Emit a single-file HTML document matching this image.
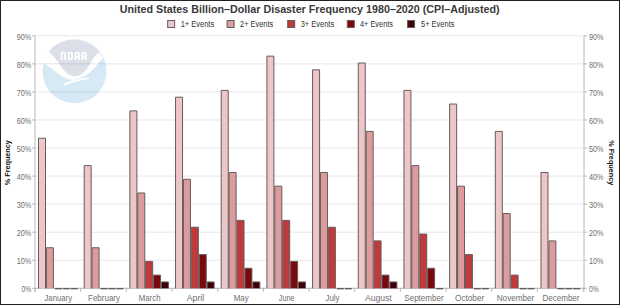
<!DOCTYPE html>
<html><head><meta charset="utf-8"><style>
html,body{margin:0;padding:0;background:#fff;}
body{width:620px;height:305px;overflow:hidden;position:relative;}
svg{position:absolute;left:0;top:0;display:block;font-family:"Liberation Sans",sans-serif;}
</style></head><body>
<svg width="620" height="305" viewBox="0 0 620 305">
<rect x="0" y="0" width="620" height="305" fill="#fff"/>

<g>
  <circle cx="74.5" cy="71.3" r="32" fill="#d6e9f5"/>
  <path d="M42.6,62.2 L48.7,51.6 L99.2,52.5 L102.8,57.8 C102.08,58.67 100.05,61.17 98.50,63.00 C96.95,64.83 95.33,66.93 93.50,68.80 C91.67,70.67 89.37,72.87 87.50,74.20 C85.63,75.53 83.93,76.10 82.30,76.80 C80.67,77.50 79.08,77.90 77.70,78.40 C76.32,78.90 75.20,79.60 74.00,79.80 C72.80,80.00 72.07,79.93 70.50,79.60 C68.93,79.27 66.52,78.65 64.60,77.80 C62.68,76.95 60.77,75.77 59.00,74.50 C57.23,73.23 55.83,71.62 54.00,70.20 C52.17,68.78 49.90,67.33 48.00,66.00 C46.10,64.67 43.50,62.83 42.60,62.20 Z" fill="#ffffff"/>
  <path d="M48.7,51.6 A32,32 0 0 1 99.2,52.5 C98.40,53.22 95.80,55.12 94.40,56.80 C93.00,58.48 92.10,60.58 90.80,62.60 C89.50,64.62 88.10,67.02 86.60,68.90 C85.10,70.78 83.73,72.65 81.80,73.90 C79.87,75.15 77.23,76.33 75.00,76.40 C72.77,76.47 70.27,75.37 68.40,74.30 C66.53,73.23 65.27,71.62 63.80,70.00 C62.33,68.38 61.07,66.60 59.60,64.60 C58.13,62.60 56.82,60.17 55.00,58.00 C53.18,55.83 49.75,52.67 48.70,51.60 Z" fill="#dddfe8"/>
  <path d="M64.2,83.2 C70,80.8 79,78.5 88.4,77.5 Q89.3,78.2 88.4,78.9 C79,80.5 71,82.6 64.8,85.4 Q63.3,84.6 64.2,83.2 Z" fill="#ffffff"/>
  <g fill="#ffffff">
    <path d="M60.6,60 V54 Q60.6,51.8 62.8,51.8 H63.8 Q66,51.8 66,54 V60 H64.2 V53.6 H62.4 V60 Z"/>
    <path d="M69.9,51.8 H70.7 Q72.9,51.8 72.9,54 V57.8 Q72.9,60 70.7,60 H69.9 Q67.7,60 67.7,57.8 V54 Q67.7,51.8 69.9,51.8 Z M69.5,53.6 V58.2 H71.1 V53.6 Z"/>
    <path d="M74.5,60 V54 Q74.5,51.8 76.7,51.8 H77.6 Q79.8,51.8 79.8,54 V60 H78 V57.6 H76.3 V60 Z M76.3,53.6 V55.8 H78 V53.6 Z"/>
    <path d="M81.4,60 V54 Q81.4,51.8 83.6,51.8 H84.5 Q86.7,51.8 86.7,54 V60 H84.9 V57.6 H83.2 V60 Z M83.2,53.6 V55.8 H84.9 V53.6 Z"/>
  </g>
</g>

<g stroke="#000" stroke-opacity="0.1" stroke-width="1"><line x1="35.0" y1="288.30" x2="584.0" y2="288.30"/><line x1="35.0" y1="260.24" x2="584.0" y2="260.24"/><line x1="35.0" y1="232.19" x2="584.0" y2="232.19"/><line x1="35.0" y1="204.13" x2="584.0" y2="204.13"/><line x1="35.0" y1="176.08" x2="584.0" y2="176.08"/><line x1="35.0" y1="148.02" x2="584.0" y2="148.02"/><line x1="35.0" y1="119.97" x2="584.0" y2="119.97"/><line x1="35.0" y1="91.91" x2="584.0" y2="91.91"/><line x1="35.0" y1="63.86" x2="584.0" y2="63.86"/><line x1="35.0" y1="35.80" x2="584.0" y2="35.80"/></g>
<g stroke="#b8b8b8" stroke-width="1">
<line x1="35.0" y1="35.8" x2="35.0" y2="291.8"/>
<line x1="584.0" y1="35.8" x2="584.0" y2="291.8"/>
<line x1="35.0" y1="288.3" x2="584.0" y2="288.3"/>
<line x1="32.0" y1="288.30" x2="35.0" y2="288.30"/><line x1="584.0" y1="288.30" x2="587.0" y2="288.30"/><line x1="32.0" y1="260.24" x2="35.0" y2="260.24"/><line x1="584.0" y1="260.24" x2="587.0" y2="260.24"/><line x1="32.0" y1="232.19" x2="35.0" y2="232.19"/><line x1="584.0" y1="232.19" x2="587.0" y2="232.19"/><line x1="32.0" y1="204.13" x2="35.0" y2="204.13"/><line x1="584.0" y1="204.13" x2="587.0" y2="204.13"/><line x1="32.0" y1="176.08" x2="35.0" y2="176.08"/><line x1="584.0" y1="176.08" x2="587.0" y2="176.08"/><line x1="32.0" y1="148.02" x2="35.0" y2="148.02"/><line x1="584.0" y1="148.02" x2="587.0" y2="148.02"/><line x1="32.0" y1="119.97" x2="35.0" y2="119.97"/><line x1="584.0" y1="119.97" x2="587.0" y2="119.97"/><line x1="32.0" y1="91.91" x2="35.0" y2="91.91"/><line x1="584.0" y1="91.91" x2="587.0" y2="91.91"/><line x1="32.0" y1="63.86" x2="35.0" y2="63.86"/><line x1="584.0" y1="63.86" x2="587.0" y2="63.86"/><line x1="32.0" y1="35.80" x2="35.0" y2="35.80"/><line x1="584.0" y1="35.80" x2="587.0" y2="35.80"/>
<line x1="35.00" y1="288.3" x2="35.00" y2="291.8"/><line x1="80.68" y1="288.3" x2="80.68" y2="291.8"/><line x1="126.36" y1="288.3" x2="126.36" y2="291.8"/><line x1="172.04" y1="288.3" x2="172.04" y2="291.8"/><line x1="217.72" y1="288.3" x2="217.72" y2="291.8"/><line x1="263.40" y1="288.3" x2="263.40" y2="291.8"/><line x1="309.08" y1="288.3" x2="309.08" y2="291.8"/><line x1="354.76" y1="288.3" x2="354.76" y2="291.8"/><line x1="400.44" y1="288.3" x2="400.44" y2="291.8"/><line x1="446.12" y1="288.3" x2="446.12" y2="291.8"/><line x1="491.80" y1="288.3" x2="491.80" y2="291.8"/><line x1="537.48" y1="288.3" x2="537.48" y2="291.8"/><line x1="583.16" y1="288.3" x2="583.16" y2="291.8"/>
</g>
<g><rect x="38.50" y="138.26" width="7.00" height="150.04" fill="#edc6c8"/><rect x="46.40" y="247.74" width="7.00" height="40.56" fill="#dc9c9e"/><rect x="84.18" y="165.63" width="7.00" height="122.67" fill="#edc6c8"/><rect x="92.08" y="247.74" width="7.00" height="40.56" fill="#dc9c9e"/><rect x="129.86" y="110.89" width="7.00" height="177.41" fill="#edc6c8"/><rect x="137.76" y="193.00" width="7.00" height="95.30" fill="#dc9c9e"/><rect x="145.66" y="261.43" width="7.00" height="26.87" fill="#c0393b"/><rect x="153.56" y="275.11" width="7.00" height="13.19" fill="#7a080c"/><rect x="161.46" y="281.96" width="7.00" height="6.34" fill="#3c0005"/><rect x="175.54" y="97.20" width="7.00" height="191.10" fill="#edc6c8"/><rect x="183.44" y="179.31" width="7.00" height="108.99" fill="#dc9c9e"/><rect x="191.34" y="227.21" width="7.00" height="61.09" fill="#c0393b"/><rect x="199.24" y="254.59" width="7.00" height="33.71" fill="#7a080c"/><rect x="207.14" y="281.96" width="7.00" height="6.34" fill="#3c0005"/><rect x="221.22" y="90.36" width="7.00" height="197.94" fill="#edc6c8"/><rect x="229.12" y="172.47" width="7.00" height="115.83" fill="#dc9c9e"/><rect x="237.02" y="220.37" width="7.00" height="67.93" fill="#c0393b"/><rect x="244.92" y="268.27" width="7.00" height="20.03" fill="#7a080c"/><rect x="252.82" y="281.96" width="7.00" height="6.34" fill="#3c0005"/><rect x="266.90" y="56.14" width="7.00" height="232.16" fill="#edc6c8"/><rect x="274.80" y="186.16" width="7.00" height="102.14" fill="#dc9c9e"/><rect x="282.70" y="220.37" width="7.00" height="67.93" fill="#c0393b"/><rect x="290.60" y="261.43" width="7.00" height="26.87" fill="#7a080c"/><rect x="298.50" y="281.96" width="7.00" height="6.34" fill="#3c0005"/><rect x="312.58" y="69.83" width="7.00" height="218.47" fill="#edc6c8"/><rect x="320.48" y="172.47" width="7.00" height="115.83" fill="#dc9c9e"/><rect x="328.38" y="227.21" width="7.00" height="61.09" fill="#c0393b"/><rect x="358.26" y="62.99" width="7.00" height="225.31" fill="#edc6c8"/><rect x="366.16" y="131.42" width="7.00" height="156.88" fill="#dc9c9e"/><rect x="374.06" y="240.90" width="7.00" height="47.40" fill="#c0393b"/><rect x="381.96" y="275.11" width="7.00" height="13.19" fill="#7a080c"/><rect x="389.86" y="281.96" width="7.00" height="6.34" fill="#3c0005"/><rect x="403.94" y="90.36" width="7.00" height="197.94" fill="#edc6c8"/><rect x="411.84" y="165.63" width="7.00" height="122.67" fill="#dc9c9e"/><rect x="419.74" y="234.06" width="7.00" height="54.24" fill="#c0393b"/><rect x="427.64" y="268.27" width="7.00" height="20.03" fill="#7a080c"/><rect x="449.62" y="104.04" width="7.00" height="184.26" fill="#edc6c8"/><rect x="457.52" y="186.16" width="7.00" height="102.14" fill="#dc9c9e"/><rect x="465.42" y="254.59" width="7.00" height="33.71" fill="#c0393b"/><rect x="495.30" y="131.42" width="7.00" height="156.88" fill="#edc6c8"/><rect x="503.20" y="213.53" width="7.00" height="74.77" fill="#dc9c9e"/><rect x="511.10" y="275.11" width="7.00" height="13.19" fill="#c0393b"/><rect x="540.98" y="172.47" width="7.00" height="115.83" fill="#edc6c8"/><rect x="548.88" y="240.90" width="7.00" height="47.40" fill="#dc9c9e"/></g>
<g fill="none" stroke="#665c5d" stroke-width="1"><path d="M38.50,288.3 V138.26 H45.50 V288.3"/><path d="M46.40,288.3 V247.74 H53.40 V288.3"/><path d="M84.18,288.3 V165.63 H91.18 V288.3"/><path d="M92.08,288.3 V247.74 H99.08 V288.3"/><path d="M129.86,288.3 V110.89 H136.86 V288.3"/><path d="M137.76,288.3 V193.00 H144.76 V288.3"/><path d="M145.66,288.3 V261.43 H152.66 V288.3"/><path d="M153.56,288.3 V275.11 H160.56 V288.3"/><path d="M161.46,288.3 V281.96 H168.46 V288.3"/><path d="M175.54,288.3 V97.20 H182.54 V288.3"/><path d="M183.44,288.3 V179.31 H190.44 V288.3"/><path d="M191.34,288.3 V227.21 H198.34 V288.3"/><path d="M199.24,288.3 V254.59 H206.24 V288.3"/><path d="M207.14,288.3 V281.96 H214.14 V288.3"/><path d="M221.22,288.3 V90.36 H228.22 V288.3"/><path d="M229.12,288.3 V172.47 H236.12 V288.3"/><path d="M237.02,288.3 V220.37 H244.02 V288.3"/><path d="M244.92,288.3 V268.27 H251.92 V288.3"/><path d="M252.82,288.3 V281.96 H259.82 V288.3"/><path d="M266.90,288.3 V56.14 H273.90 V288.3"/><path d="M274.80,288.3 V186.16 H281.80 V288.3"/><path d="M282.70,288.3 V220.37 H289.70 V288.3"/><path d="M290.60,288.3 V261.43 H297.60 V288.3"/><path d="M298.50,288.3 V281.96 H305.50 V288.3"/><path d="M312.58,288.3 V69.83 H319.58 V288.3"/><path d="M320.48,288.3 V172.47 H327.48 V288.3"/><path d="M328.38,288.3 V227.21 H335.38 V288.3"/><path d="M358.26,288.3 V62.99 H365.26 V288.3"/><path d="M366.16,288.3 V131.42 H373.16 V288.3"/><path d="M374.06,288.3 V240.90 H381.06 V288.3"/><path d="M381.96,288.3 V275.11 H388.96 V288.3"/><path d="M389.86,288.3 V281.96 H396.86 V288.3"/><path d="M403.94,288.3 V90.36 H410.94 V288.3"/><path d="M411.84,288.3 V165.63 H418.84 V288.3"/><path d="M419.74,288.3 V234.06 H426.74 V288.3"/><path d="M427.64,288.3 V268.27 H434.64 V288.3"/><path d="M449.62,288.3 V104.04 H456.62 V288.3"/><path d="M457.52,288.3 V186.16 H464.52 V288.3"/><path d="M465.42,288.3 V254.59 H472.42 V288.3"/><path d="M495.30,288.3 V131.42 H502.30 V288.3"/><path d="M503.20,288.3 V213.53 H510.20 V288.3"/><path d="M511.10,288.3 V275.11 H518.10 V288.3"/><path d="M540.98,288.3 V172.47 H547.98 V288.3"/><path d="M548.88,288.3 V240.90 H555.88 V288.3"/></g>
<g stroke="#5a5a5a" stroke-width="1.3"><line x1="54.90" y1="288.7" x2="61.90" y2="288.7"/><line x1="62.80" y1="288.7" x2="69.80" y2="288.7"/><line x1="70.70" y1="288.7" x2="77.70" y2="288.7"/><line x1="100.58" y1="288.7" x2="107.58" y2="288.7"/><line x1="108.48" y1="288.7" x2="115.48" y2="288.7"/><line x1="116.38" y1="288.7" x2="123.38" y2="288.7"/><line x1="336.88" y1="288.7" x2="343.88" y2="288.7"/><line x1="344.78" y1="288.7" x2="351.78" y2="288.7"/><line x1="436.14" y1="288.7" x2="443.14" y2="288.7"/><line x1="473.92" y1="288.7" x2="480.92" y2="288.7"/><line x1="481.82" y1="288.7" x2="488.82" y2="288.7"/><line x1="519.60" y1="288.7" x2="526.60" y2="288.7"/><line x1="527.50" y1="288.7" x2="534.50" y2="288.7"/><line x1="557.38" y1="288.7" x2="564.38" y2="288.7"/><line x1="565.28" y1="288.7" x2="572.28" y2="288.7"/><line x1="573.18" y1="288.7" x2="580.18" y2="288.7"/></g>
<g fill="#6e6e6e" font-size="9.6"><text x="21.50" y="292.00" textLength="9.8" lengthAdjust="spacingAndGlyphs">0%</text><text x="589" y="292.00" textLength="9.8" lengthAdjust="spacingAndGlyphs">0%</text><text x="16.70" y="263.94" textLength="14.6" lengthAdjust="spacingAndGlyphs">10%</text><text x="589" y="263.94" textLength="14.6" lengthAdjust="spacingAndGlyphs">10%</text><text x="16.70" y="235.89" textLength="14.6" lengthAdjust="spacingAndGlyphs">20%</text><text x="589" y="235.89" textLength="14.6" lengthAdjust="spacingAndGlyphs">20%</text><text x="16.70" y="207.83" textLength="14.6" lengthAdjust="spacingAndGlyphs">30%</text><text x="589" y="207.83" textLength="14.6" lengthAdjust="spacingAndGlyphs">30%</text><text x="16.70" y="179.78" textLength="14.6" lengthAdjust="spacingAndGlyphs">40%</text><text x="589" y="179.78" textLength="14.6" lengthAdjust="spacingAndGlyphs">40%</text><text x="16.70" y="151.72" textLength="14.6" lengthAdjust="spacingAndGlyphs">50%</text><text x="589" y="151.72" textLength="14.6" lengthAdjust="spacingAndGlyphs">50%</text><text x="16.70" y="123.67" textLength="14.6" lengthAdjust="spacingAndGlyphs">60%</text><text x="589" y="123.67" textLength="14.6" lengthAdjust="spacingAndGlyphs">60%</text><text x="16.70" y="95.61" textLength="14.6" lengthAdjust="spacingAndGlyphs">70%</text><text x="589" y="95.61" textLength="14.6" lengthAdjust="spacingAndGlyphs">70%</text><text x="16.70" y="67.56" textLength="14.6" lengthAdjust="spacingAndGlyphs">80%</text><text x="589" y="67.56" textLength="14.6" lengthAdjust="spacingAndGlyphs">80%</text><text x="16.70" y="39.50" textLength="14.6" lengthAdjust="spacingAndGlyphs">90%</text><text x="589" y="39.50" textLength="14.6" lengthAdjust="spacingAndGlyphs">90%</text></g>
<g fill="#6e6e6e" font-size="9"><text x="44.50" y="301" textLength="27.50" lengthAdjust="spacingAndGlyphs">January</text><text x="88.00" y="301" textLength="32.00" lengthAdjust="spacingAndGlyphs">February</text><text x="138.75" y="301" textLength="21.75" lengthAdjust="spacingAndGlyphs">March</text><text x="186.75" y="301" textLength="17.50" lengthAdjust="spacingAndGlyphs">April</text><text x="233.75" y="301" textLength="15.00" lengthAdjust="spacingAndGlyphs">May</text><text x="278.75" y="301" textLength="15.75" lengthAdjust="spacingAndGlyphs">June</text><text x="325.50" y="301" textLength="14.00" lengthAdjust="spacingAndGlyphs">July</text><text x="365.00" y="301" textLength="26.75" lengthAdjust="spacingAndGlyphs">August</text><text x="404.25" y="301" textLength="39.50" lengthAdjust="spacingAndGlyphs">September</text><text x="455.00" y="301" textLength="29.25" lengthAdjust="spacingAndGlyphs">October</text><text x="496.75" y="301" textLength="37.50" lengthAdjust="spacingAndGlyphs">November</text><text x="542.50" y="301" textLength="37.00" lengthAdjust="spacingAndGlyphs">December</text></g>
<text x="119.7" y="12.7" textLength="380" lengthAdjust="spacingAndGlyphs" font-size="10.9" font-weight="bold" fill="#3a3a3a">United States Billion–Dollar Disaster Frequency 1980–2020 (CPI–Adjusted)</text>
<g fill="#333" font-size="8.5"><rect x="167.70" y="20.5" width="7" height="7" fill="#edc6c8" stroke="#665c5d" stroke-width="1"/><text x="180.7" y="27.2" textLength="33.50" lengthAdjust="spacingAndGlyphs">1+ Events</text><rect x="227.10" y="20.5" width="7" height="7" fill="#dc9c9e" stroke="#665c5d" stroke-width="1"/><text x="240" y="27.2" textLength="33.20" lengthAdjust="spacingAndGlyphs">2+ Events</text><rect x="287.70" y="20.5" width="7" height="7" fill="#c0393b" stroke="#665c5d" stroke-width="1"/><text x="300.7" y="27.2" textLength="33.50" lengthAdjust="spacingAndGlyphs">3+ Events</text><rect x="347.30" y="20.5" width="7" height="7" fill="#7a080c" stroke="#665c5d" stroke-width="1"/><text x="360" y="27.2" textLength="33.00" lengthAdjust="spacingAndGlyphs">4+ Events</text><rect x="407.60" y="20.5" width="7" height="7" fill="#3c0005" stroke="#665c5d" stroke-width="1"/><text x="421" y="27.2" textLength="33.50" lengthAdjust="spacingAndGlyphs">5+ Events</text></g>
<text transform="translate(9.7,162.7) rotate(-90)" text-anchor="middle" textLength="45" lengthAdjust="spacingAndGlyphs" font-size="7" font-weight="bold" fill="#111">% Frequency</text>
<text transform="translate(609.3,162.7) rotate(90)" text-anchor="middle" textLength="45" lengthAdjust="spacingAndGlyphs" font-size="7" font-weight="bold" fill="#111">% Frequency</text>
<rect x="0.5" y="0.5" width="619" height="304" fill="none" stroke="#222" stroke-width="1"/>
</svg>
</body></html>
